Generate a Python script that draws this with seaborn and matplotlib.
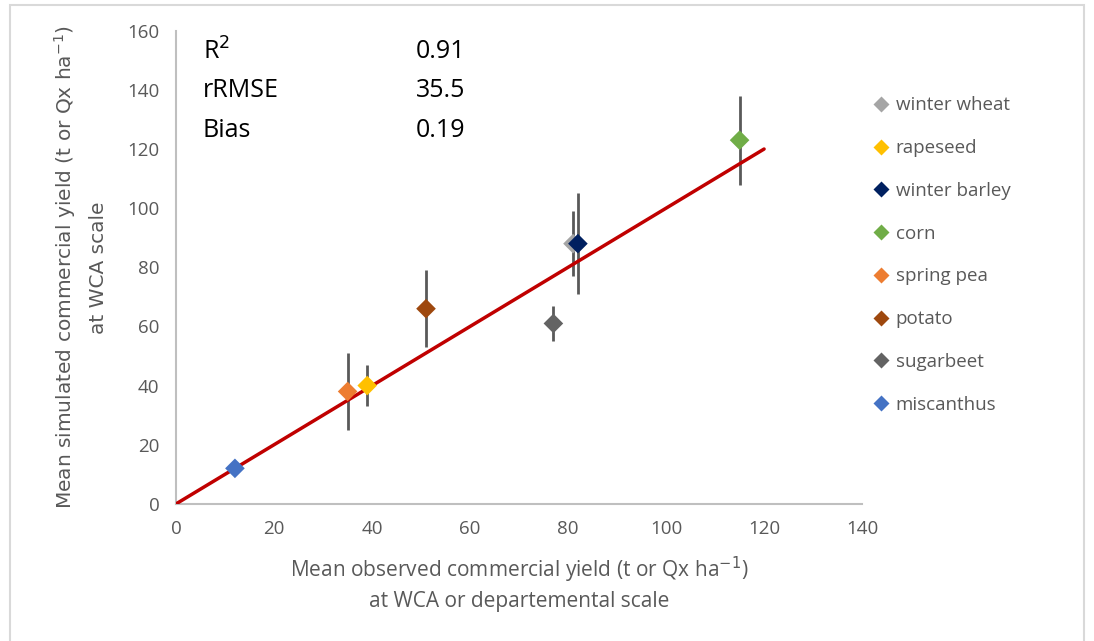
import pandas as pd
import matplotlib.pyplot as plt
import seaborn as sns
from matplotlib.patches import Rectangle

crops = ['winter wheat', 'rapeseed', 'winter barley', 'corn',
         'spring pea', 'potato', 'sugarbeet', 'miscanthus']
observed = [81, 39, 82, 115, 35, 51, 77, 12]
simulated = [88, 40, 88, 123, 38, 66, 61, 12]
sim_err = [11, 7, 17, 15, 13, 13, 6, 1]
colors = ['#A5A5A5', '#FFC000', '#002060', '#70AD47',
          '#ED7D31', '#9E480E', '#636363', '#4472C4']
line_x = [0, 120]
line_y = [0, 120]
stats_names = ['R$^2$', 'rRMSE', 'Bias']
stats_values = ['0.91', '35.5', '0.19']


def main():
    df = pd.DataFrame({'crop': crops, 'obs': observed, 'sim': simulated, 'err': sim_err})

    sns.set_style('white')
    plt.rcParams['font.family'] = ['Open Sans', 'DejaVu Sans']

    fig = plt.figure(figsize=(10.94, 6.41), dpi=100)
    ax = fig.add_axes([0.161, 0.214, 0.627, 0.738])

    # error bars first, then the line, then diamonds on top
    ax.errorbar(df['obs'], df['sim'], yerr=df['err'], fmt='none',
                ecolor='#595959', elinewidth=2, capsize=0, zorder=2)
    ax.plot(line_x, line_y, color='#C00000', lw=2.5, zorder=3)
    sns.scatterplot(data=df, x='obs', y='sim', hue='crop', hue_order=crops,
                    palette=colors, marker='D', s=100, edgecolor='none',
                    ax=ax, zorder=4)

    ax.set_xlim(0, 140)
    ax.set_ylim(0, 160)
    ax.set_xticks(range(0, 141, 20))
    ax.set_yticks(range(0, 161, 20))
    for sp in ['top', 'right']:
        ax.spines[sp].set_visible(False)
    for sp in ['left', 'bottom']:
        ax.spines[sp].set_color('#BFBFBF')
        ax.spines[sp].set_linewidth(1.5)
    ax.tick_params(axis='both', colors='#595959', labelsize=13.5, length=0, pad=12)

    ax.set_xlabel('Mean observed commercial yield (t or Qx ha$^{-1}$)\nat WCA or departemental scale',
                  fontsize=15, color='#595959', labelpad=12, linespacing=1.35)
    ax.set_ylabel('Mean simulated commercial yield (t or Qx ha$^{-1}$)\nat WCA scale',
                  fontsize=14.5, color='#595959', labelpad=14, linespacing=1.7,
                  family=['DejaVu Sans'])

    for i, (n, v) in enumerate(zip(stats_names, stats_values)):
        yy = 0.956 - i * 0.083
        ax.text(0.039, yy, n, transform=ax.transAxes, fontsize=18, va='center', color='black')
        ax.text(0.349, yy, v, transform=ax.transAxes, fontsize=18, va='center', color='black')

    leg = ax.legend(loc='upper left', bbox_to_anchor=(1.0, 0.877), frameon=False,
                    fontsize=13.5, labelspacing=1.32, handletextpad=0.2, handlelength=1.2,
                    borderaxespad=0, markerscale=0.8)
    for t in leg.get_texts():
        t.set_color('#595959')

    fig.patches.append(Rectangle((0.009, -0.01), 0.982, 1.002, transform=fig.transFigure,
                                 fill=False, edgecolor='#D9D9D9', lw=1.5))

    fig.savefig('out.png', dpi=100)


if __name__ == '__main__':
    main()
